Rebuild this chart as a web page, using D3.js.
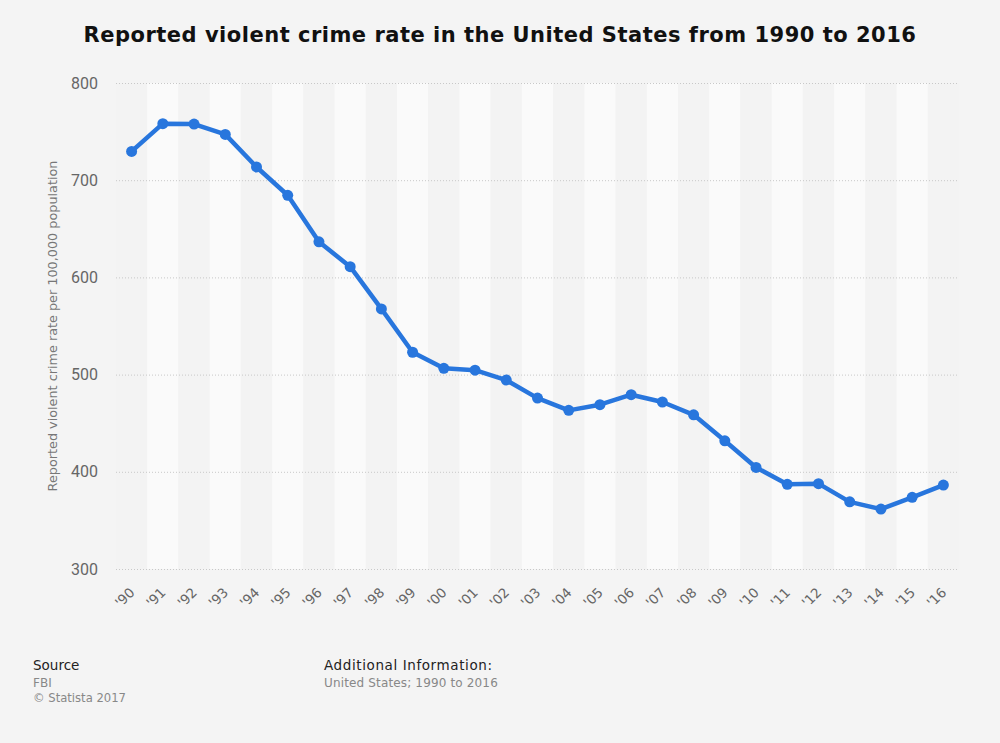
<!DOCTYPE html>
<html>
<head>
<meta charset="utf-8">
<script src="https://cdn.jsdelivr.net/npm/d3@7"></script>
<style>
  body { margin: 0; background: #f4f4f4; }
  svg { display: block; }
</style>
</head>
<body>
<div id="chart"></div>
<script>
// values
const years = ["'90", "'91", "'92", "'93", "'94", "'95", "'96", "'97", "'98", "'99",
  "'00", "'01", "'02", "'03", "'04", "'05", "'06", "'07", "'08", "'09",
  "'10", "'11", "'12", "'13", "'14", "'15", "'16"];
const crimeRate = [729.6, 758.2, 757.7, 747.1, 713.6, 684.5, 636.6, 611.0, 567.6, 523.0,
  506.5, 504.5, 494.4, 475.8, 463.2, 469.0, 479.3, 471.8, 458.6, 431.9,
  404.5, 387.1, 387.8, 369.1, 361.6, 373.7, 386.3];
const yTicks = [300, 400, 500, 600, 700, 800];

const svgWidth = 1000;
const svgHeight = 743;
const margin = { top: 83, right: 41, bottom: 174, left: 116 };
const chartWidth = svgWidth - margin.left - margin.right;
const chartHeight = svgHeight - margin.top - margin.bottom;

let svg = d3.select("#chart").append("svg")
    .attr("width", svgWidth)
    .attr("height", svgHeight);

svg.append("rect").attr("width", svgWidth).attr("height", svgHeight).attr("fill", "#f4f4f4");

svg.append("text")
    .attr("x", svgWidth / 2)
    .attr("y", 42)
    .attr("text-anchor", "middle")
    .style("font-family", "DejaVu Sans")
    .style("font-weight", "bold")
    .style("font-size", "21px")
    .style("letter-spacing", "0.5px")
    .attr("fill", "#111")
    .text("Reported violent crime rate in the United States from 1990 to 2016");

let g = svg.append("g").attr("transform", `translate(${margin.left},${margin.top})`);

let x = d3.scaleBand().domain(years).range([0, chartWidth]);
let y = d3.scaleLinear().domain([300, 800]).range([chartHeight, 0]);

// alternating column bands
g.selectAll(".band")
    .data(years)
    .enter()
    .append("rect")
        .attr("x", d => x(d))
        .attr("y", 0)
        .attr("width", x.bandwidth())
        .attr("height", chartHeight)
        .attr("fill", (d, i) => i % 2 ? "#fafafa" : "#f3f3f3");

// grid + y labels
let yAxis = g.append("g")
    .call(d3.axisLeft(y).tickValues(yTicks).tickSize(-chartWidth).tickPadding(18));
yAxis.select(".domain").remove();
yAxis.selectAll("line")
    .attr("stroke", "#c8c8c8")
    .attr("stroke-dasharray", "1,2");
yAxis.selectAll("text")
    .style("font-family", "Roboto")
    .style("font-size", "16px")
    .attr("fill", "#666");

// x labels, rotated -45
g.append("g").selectAll("text")
    .data(years)
    .enter()
    .append("text")
        .attr("transform", d => `translate(${x(d) + x.bandwidth() / 2 + 0.5},${chartHeight + 21}) rotate(-45)`)
        .attr("text-anchor", "end")
        .attr("dy", "0.35em")
        .style("font-family", "DejaVu Sans")
        .style("font-size", "13.5px")
        .attr("fill", "#666")
        .text(d => d);

svg.append("text")
    .attr("transform", `translate(57,${margin.top + chartHeight / 2}) rotate(-90)`)
    .attr("text-anchor", "middle")
    .style("font-family", "DejaVu Sans")
    .style("font-size", "12.8px")
    .attr("fill", "#777")
    .text("Reported violent crime rate per 100,000 population");

let line = d3.line()
    .x((d, i) => x(years[i]) + x.bandwidth() / 2)
    .y(d => y(d));

g.append("path")
    .datum(crimeRate)
    .attr("d", line)
    .attr("fill", "none")
    .attr("stroke", "#2876dd")
    .attr("stroke-width", 4.5)
    .attr("stroke-linejoin", "round");

g.selectAll(".dot")
    .data(crimeRate)
    .enter()
    .append("circle")
        .attr("cx", (d, i) => x(years[i]) + x.bandwidth() / 2)
        .attr("cy", d => y(d))
        .attr("r", 5.5)
        .attr("fill", "#2876dd");

// footer
const foot = [
    { x: 33, y: 670, t: "Source", c: "#222", s: 13.5, ls: 0 },
    { x: 33, y: 687, t: "FBI", c: "#888", s: 12, ls: 0 },
    { x: 33, y: 702, t: "\u00a9 Statista 2017", c: "#888", s: 11.6, ls: 0 },
    { x: 324, y: 670, t: "Additional Information:", c: "#222", s: 13.5, ls: 0.6 },
    { x: 324, y: 687, t: "United States; 1990 to 2016", c: "#888", s: 12, ls: 0.15 }
];
svg.selectAll(".foot")
    .data(foot)
    .enter()
    .append("text")
        .attr("x", d => d.x)
        .attr("y", d => d.y)
        .style("font-family", "DejaVu Sans")
        .style("font-size", d => d.s + "px")
        .style("letter-spacing", d => d.ls + "px")
        .attr("fill", d => d.c)
        .text(d => d.t);
</script>
</body>
</html>
